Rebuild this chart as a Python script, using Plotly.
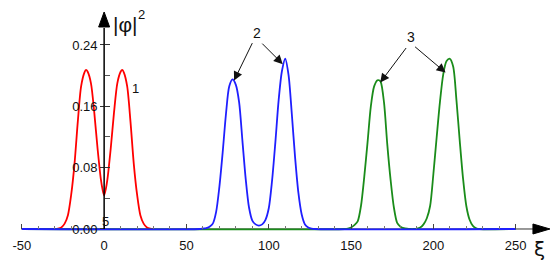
import plotly.graph_objects as go

# ---- data ----
xi_red = [-50, -30, -28, -26, -24, -22, -20, -18, -16, -14, -12, -11, -10, -8, -6, -4, -2, -1, 0,
          1, 2, 4, 6, 8, 10, 11, 12, 14, 16, 18, 20, 22, 24, 26, 28, 30]
phi_red = [0, 0, 0.0005, 0.002, 0.007, 0.018, 0.045, 0.085, 0.14, 0.186, 0.204, 0.2075, 0.205, 0.19,
           0.152, 0.105, 0.065, 0.052, 0.044,
           0.052, 0.065, 0.105, 0.152, 0.19, 0.205, 0.2075, 0.204, 0.186, 0.14, 0.085, 0.045, 0.018,
           0.007, 0.002, 0.0005, 0]

xi_blue = [-50, 58, 60, 62, 64, 66, 68, 70, 72, 74, 76, 78, 80, 82, 84, 86, 88, 90, 92, 94, 96, 98,
           100, 102, 104, 106, 108, 110, 112, 114, 116, 118, 120, 122, 124, 126, 128, 250]
phi_blue = [0, 0, 0.0005, 0.001, 0.003, 0.007, 0.022, 0.055, 0.1, 0.15, 0.186, 0.195, 0.188, 0.165,
            0.115, 0.065, 0.028, 0.011, 0.006, 0.0043, 0.006, 0.012,
            0.027, 0.063, 0.113, 0.168, 0.206, 0.222, 0.201, 0.15, 0.093, 0.047, 0.019, 0.006, 0.002,
            0.0005, 0, 0]

xi_green = [-50, 146, 148, 150, 152, 154, 156, 158, 160, 162, 164, 166, 167, 168, 170, 172, 174, 176,
            178, 180, 182, 184, 186, 188, 190, 192, 194, 196, 198, 200, 202, 204, 206, 208, 210, 212,
            214, 216, 218, 220, 222, 224, 226, 228, 250]
phi_green = [0, 0, 0.0005, 0.002, 0.005, 0.01, 0.03, 0.068, 0.113, 0.16, 0.186, 0.194, 0.194, 0.192,
             0.165, 0.11, 0.064, 0.028, 0.008, 0.003, 0.001, 0.0003, 0, 0, 0.0005, 0.002, 0.006,
             0.014, 0.03, 0.072, 0.12, 0.166, 0.202, 0.219, 0.222, 0.212, 0.168, 0.115, 0.066, 0.03,
             0.012, 0.004, 0.001, 0, 0]

x_ticks = [-50, 0, 50, 100, 150, 200, 250]
x_labels = ["-50", "0", "50", "100", "150", "200", "250"]
x_minor = [-40, -30, -20, -10, 10, 20, 30, 40, 60, 70, 80, 90, 110, 120, 130, 140,
           160, 170, 180, 190, 210, 220, 230, 240]
y_ticks = [0.0, 0.08, 0.16, 0.24]
y_labels = ["0.00", "0.08", "0.16", "0.24"]
y_minor = [0.04, 0.12, 0.20]

# ---- layout geometry (page body has an 8px margin, so the figure is 552x265) ----
X0, X1 = -58.4, 276.9
Y0, Y1 = -0.0574, 0.2882
xpos = (0 - X0) / (X1 - X0)
ypos = (0 - Y0) / (Y1 - Y0)

FONT = "Liberation Sans, Arial, Helvetica, sans-serif"

fig = go.Figure()
def add(x, y, color, width=1.8):
    fig.add_trace(go.Scatter(x=x, y=y, mode="lines", hoverinfo="skip",
                             line=dict(color=color, width=width, shape="spline", smoothing=0.8)))
add(xi_red, phi_red, "#ff0000")
add(xi_green, phi_green, "#1a8c1a")
add(xi_blue, phi_blue, "#1f1fff")
fig.add_trace(go.Scatter(x=[], y=[], yaxis="y2", hoverinfo="skip"))

# tiny offset on the 0 tick so the label at the axis crossing is kept
x_tickpos = [v if v != 0 else 1e-9 for v in x_ticks]

axis_common = dict(showline=False, showgrid=False, zeroline=False, fixedrange=True, anchor="free")
fig.update_layout(
    width=552, height=265, margin=dict(l=0, r=0, t=0, b=0),
    paper_bgcolor="white", plot_bgcolor="white", showlegend=False,
    xaxis=dict(range=[X0, X1], position=ypos, tickmode="array", tickvals=x_tickpos, ticktext=x_labels,
               ticks="inside", ticklen=5, tickwidth=1, tickcolor="#444",
               tickfont=dict(family=FONT, size=13, color="#111"), ticklabelstandoff=7,
               minor=dict(tickmode="array", tickvals=x_minor, ticks="inside", ticklen=3,
                          tickwidth=1, tickcolor="#777"),
               **axis_common),
    yaxis=dict(range=[Y0, Y1], position=xpos, tickmode="array", tickvals=y_ticks, ticktext=y_labels,
               ticks="outside", ticklen=4, tickwidth=1, tickcolor="#333",
               tickfont=dict(family=FONT, size=13, color="#111"), **axis_common),
    yaxis2=dict(range=[Y0, Y1], position=xpos, overlaying="y", tickmode="array",
                tickvals=y_ticks[1:], ticks="inside", ticklen=5, tickwidth=1, tickcolor="#333",
                showticklabels=False,
                minor=dict(tickmode="array", tickvals=y_minor, ticks="inside", ticklen=5,
                           tickwidth=1, tickcolor="#555"),
                **axis_common),
)

# axis lines and arrowheads
fig.add_shape(type="line", x0=-50, y0=0, x1=260.5, y1=0, xref="x", yref="y",
              line=dict(color="#333", width=1), layer="below")
fig.add_shape(type="path", xref="x", yref="y", xsizemode="pixel", ysizemode="pixel",
              xanchor=270.8, yanchor=0, path="M0,0 L-17,5 L-17,-5 Z",
              fillcolor="black", line=dict(color="black", width=1))
fig.add_shape(type="line", x0=0, y0=0, x1=0, y1=0.262, xref="x", yref="y",
              line=dict(color="black", width=1.5), layer="above")
fig.add_shape(type="path", xref="x", yref="y", xsizemode="pixel", ysizemode="pixel",
              xanchor=0, yanchor=0.283, path="M0,0 L-5.5,-15 L5.5,-15 Z",
              fillcolor="black", line=dict(color="black", width=1))

# texts
fig.add_annotation(x=0, y=0.283, xref="x", yref="y", xshift=8, yshift=-13, xanchor="left",
                   yanchor="middle", text="|φ|", showarrow=False, borderpad=0,
                   font=dict(family=FONT, size=21, color="#111"))
fig.add_annotation(x=0, y=0.283, xref="x", yref="y", xshift=37, yshift=-3, xanchor="center",
                   yanchor="middle", text="2", showarrow=False, borderpad=0,
                   font=dict(family=FONT, size=13, color="#111"))
fig.add_annotation(x=270.8, y=0, xref="x", yref="y", xshift=-10, yshift=-20, text="ξ",
                   showarrow=False, font=dict(family="DejaVu Sans", size=20, color="#111"))
fig.add_annotation(x=0.6, y=0, xref="x", yref="y", yanchor="bottom", text="5", showarrow=False,
                   font=dict(family=FONT, size=13, color="#111"), yshift=-2)
fig.add_annotation(x=18.8, y=0.1827, xref="x", yref="y", text="1", showarrow=False,
                   font=dict(family=FONT, size=13, color="#111"))
fig.add_annotation(x=93.0, y=0.2558, xref="x", yref="y", text="2", showarrow=False,
                   font=dict(family=FONT, size=14, color="#111"))
fig.add_annotation(x=186.3, y=0.250, xref="x", yref="y", text="3", showarrow=False,
                   font=dict(family=FONT, size=14, color="#111"))

arrows = [(78.9, 0.1935, 19, -39), (108.5, 0.215, -22, -22),
          (167.7, 0.191, 27, -36), (207.4, 0.204, -32, -27)]
for x, y, ax, ay in arrows:
    fig.add_annotation(x=x, y=y, xref="x", yref="y", ax=ax, ay=ay, text="", showarrow=True,
                       arrowhead=2, arrowsize=1.8, arrowwidth=1, arrowcolor="#111",
                       standoff=0, startstandoff=0)

fig.write_html("out.html")
